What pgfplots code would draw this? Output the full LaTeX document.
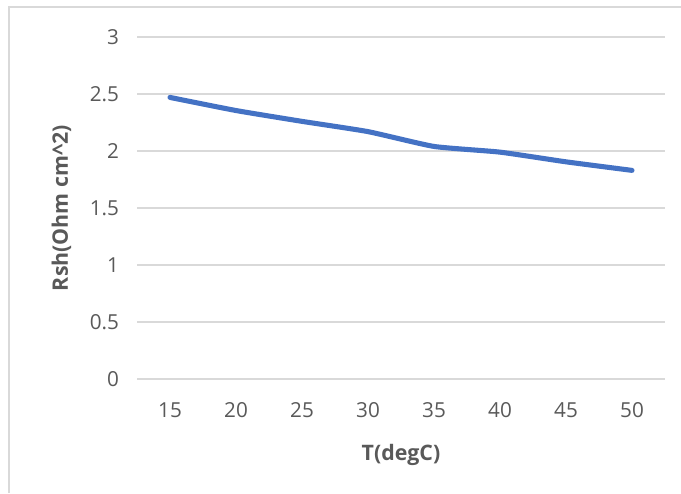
\documentclass[border=0pt]{standalone}
\usepackage{pgfplots}
\pgfplotsset{compat=1.18}
\usepackage{fontspec}
\setmainfont{Open Sans}
\definecolor{txt}{HTML}{595959}
\definecolor{grid}{HTML}{D9D9D9}
\definecolor{line}{HTML}{4472C4}
\begin{document}
\begin{tikzpicture}[x=1pt,y=1pt]
\path[use as bounding box] (0,0) rectangle (510.75,369.75);
\draw[color=grid,line width=1pt] (6.75,0) -- (6.75,364.5) -- (510.75,364.5);
\begin{axis}[
  at={(102.75pt,85.5pt)}, anchor=south west,
  scale only axis, width=396pt, height=256.5pt,
  xmin=12.5, xmax=52.5, ymin=0, ymax=3,
  xtick={15,20,25,30,35,40,45,50},
  ytick={0,0.5,1,1.5,2,2.5,3},
  axis line style={draw=none},
  tick style={draw=none},
  ymajorgrids, grid style={color=grid,line width=1pt},
  /pgf/number format/assume math mode=true,
  /pgf/number format/fixed,
  ticklabel style={font=\fontsize{15.5}{18}\selectfont, text=txt},
  yticklabel style={xshift=-10pt},
  xticklabel style={yshift=-14pt},
  xlabel={\textbf{T(degC)}},
  ylabel={\textbf{Rsh(Ohm cm\textasciicircum 2)}},
  label style={font=\fontsize{16}{19}\selectfont, text=txt},
  xlabel style={yshift=-13pt},
  ylabel style={yshift=7pt},
  clip=false,
]
\addplot[color=line, line width=3.8pt, smooth, tension=0.3, line cap=round, line join=round] coordinates {
(15,2.47) (20,2.355) (25,2.26) (30,2.17) (35,2.04) (40,1.99) (45,1.905) (50,1.83)
};
\end{axis}
\end{tikzpicture}
\end{document}
